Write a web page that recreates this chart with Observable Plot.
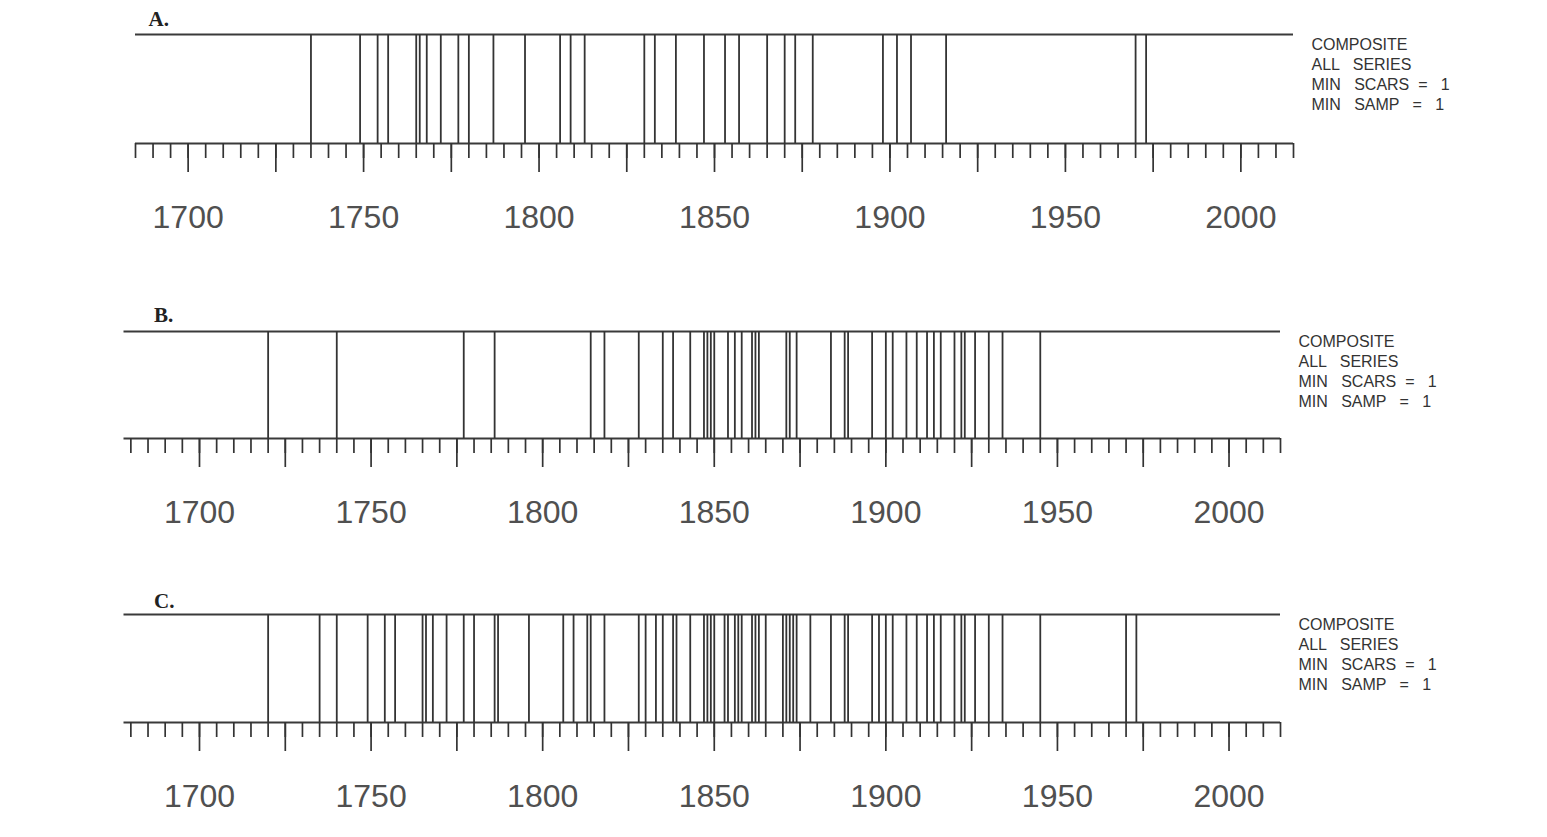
<!DOCTYPE html>
<html><head><meta charset="utf-8">
<script src="https://cdn.jsdelivr.net/npm/d3@7"></script>
<script src="https://cdn.jsdelivr.net/npm/@observablehq/plot@0.6"></script>
<style>
html,body{margin:0;padding:0;background:#fff}
body{width:1547px;height:837px;overflow:hidden;position:relative;font-family:"Liberation Sans",Arial,sans-serif}
.panel{position:absolute;left:0}
svg text{white-space:pre}
</style></head><body>
<div id="pA" class="panel" style="top:0px"></div>
<div id="pB" class="panel" style="top:297px"></div>
<div id="pC" class="panel" style="top:580px"></div>
<script>
// ---- data ----
const panelLabels = ["A.", "B.", "C."];
const legendLines = ["COMPOSITE", "ALL   SERIES", "MIN   SCARS  =   1", "MIN   SAMP   =   1"];
const yearLabels = [1700, 1750, 1800, 1850, 1900, 1950, 2000];
const majorTicks = [1700, 1725, 1750, 1775, 1800, 1825, 1850, 1875, 1900, 1925, 1950, 1975, 2000];

const firesA = [1735, 1749, 1754, 1757, 1765, 1766, 1768, 1772, 1777, 1780, 1787, 1796,
  1806, 1809, 1813, 1830, 1833, 1839, 1847, 1853, 1857, 1865, 1870, 1873, 1878,
  1898, 1902, 1906, 1916, 1970, 1973];
const firesB = [1720, 1740, 1777, 1786, 1814, 1818, 1828, 1835, 1838, 1843, 1847, 1848,
  1849, 1850, 1854, 1856, 1858, 1861, 1862, 1863, 1871, 1872, 1874, 1884, 1888, 1889,
  1896, 1900, 1902, 1906, 1909, 1912, 1914, 1916, 1920, 1922, 1923, 1926, 1930, 1934, 1945];
const firesC = [1720, 1735, 1740, 1749, 1754, 1757, 1765, 1766, 1768, 1772, 1777, 1780,
  1786, 1787, 1796, 1806, 1809, 1813, 1814, 1818, 1828, 1830, 1833, 1835, 1838, 1839,
  1843, 1847, 1848, 1849, 1850, 1853, 1854, 1856, 1857, 1858, 1861, 1862, 1863, 1865,
  1870, 1871, 1872, 1873, 1874, 1878, 1884, 1888, 1889, 1896, 1898, 1900, 1902, 1906,
  1909, 1912, 1914, 1916, 1920, 1922, 1923, 1926, 1930, 1934, 1945, 1970, 1973];

const domainA = [1685, 2015];
const domainBC = [1678, 2015];

function panel(fires, domain, label, opts) {
  const H = 256;
  const minorTicks = d3.range(Math.ceil(domain[0] / 5) * 5, domain[1] + 1, 5);
  return Plot.plot({
    width: 1547,
    height: H,
    marginLeft: opts.left,
    marginRight: opts.right,
    marginTop: 34,
    marginBottom: H - 34 - opts.h,
    x: {domain, label: null},
    y: {domain: [0, 1], axis: null},
    style: {background: "transparent", color: "#333", fontFamily: "'Liberation Sans', Arial, sans-serif"},
    marks: [
      Plot.ruleY([0, 1], {stroke: "#3a3a3a", strokeWidth: 2}),
      Plot.ruleX(fires, {x: d => d, y1: 0, y2: 1, stroke: "#333", strokeWidth: 1.8}),
      Plot.axisX({ticks: minorTicks, tickSize: 15, tickFormat: () => "", stroke: "#333", strokeWidth: 1.7, label: null}),
      Plot.axisX({ticks: majorTicks, tickSize: 29, tickFormat: () => "", stroke: "#333", strokeWidth: 1.7, label: null}),
      Plot.axisX({ticks: yearLabels, tickSize: 0, tickPadding: 62, tickFormat: d => String(d),
        fontSize: 32, fill: "#505050", label: null}),
      Plot.text([label], {frameAnchor: "top-left", text: d => d, dx: opts.labelDx, dy: opts.labelDy,
        textAnchor: "start", lineAnchor: "bottom", fontFamily: "'Liberation Serif', 'DejaVu Serif', serif",
        fontWeight: "bold", fontSize: 21, fill: "#222"}),
      Plot.text([legendLines.join("\n")], {frameAnchor: "top-right", text: d => d, dx: 18, dy: 1,
        textAnchor: "start", lineAnchor: "top", fontSize: 16, lineHeight: 1.25, fill: "#333"})
    ]
  });
}

document.getElementById("pA").append(panel(firesA, domainA, panelLabels[0], {left: 135, right: 254, h: 109, labelDx: 13, labelDy: -9}));
document.getElementById("pB").append(panel(firesB, domainBC, panelLabels[1], {left: 123.5, right: 267, h: 107, labelDx: 30, labelDy: -10}));
document.getElementById("pC").append(panel(firesC, domainBC, panelLabels[2], {left: 123.5, right: 267, h: 108, labelDx: 30, labelDy: -7}));
</script>
</body></html>
